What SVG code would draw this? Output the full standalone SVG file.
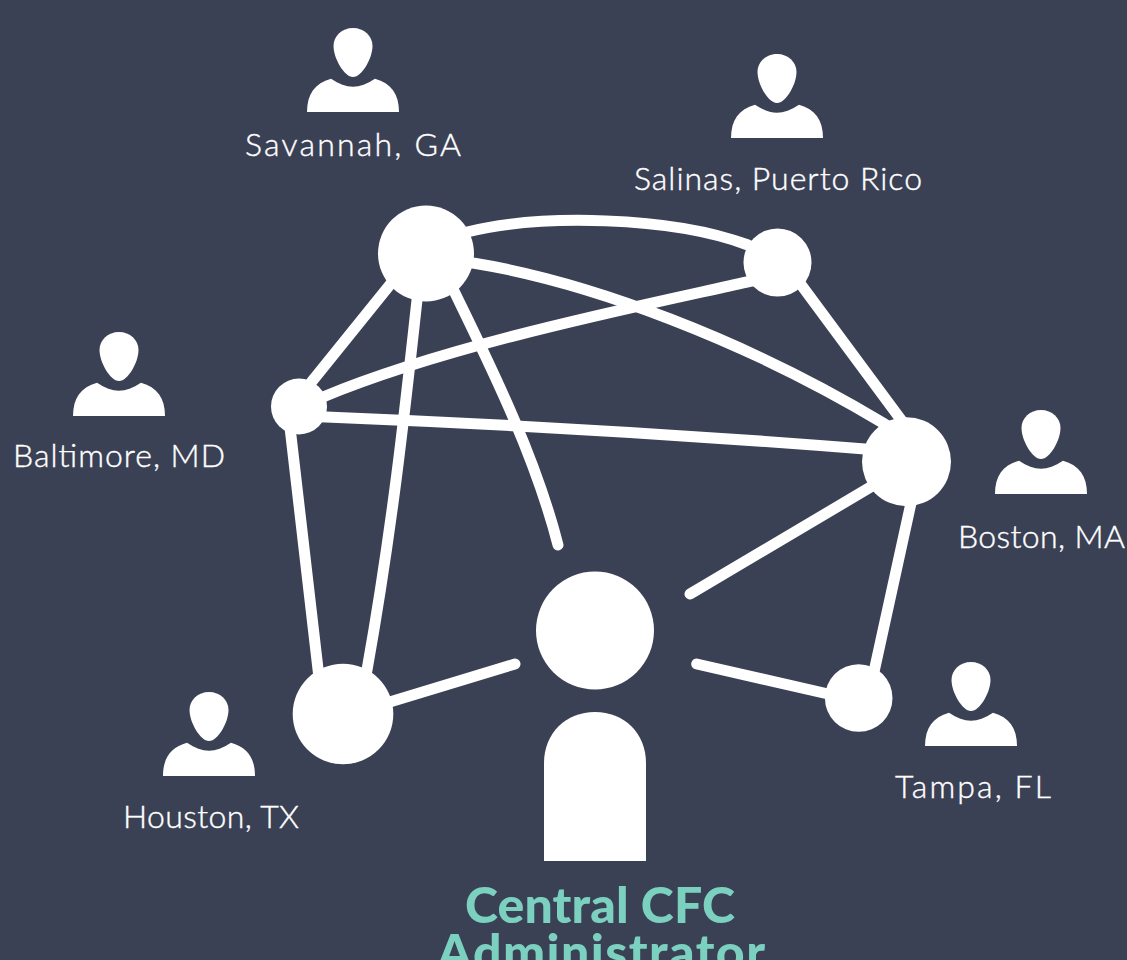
<svg xmlns="http://www.w3.org/2000/svg" width="1127" height="960" viewBox="0 0 1127 960">
<style>
.c{fill:none;stroke:#fff;stroke-width:11;stroke-linecap:round}
.n{fill:#fff}
.l{font-family:"Lato","Noto Sans",sans-serif;font-weight:300;font-size:32px;fill:#fff;stroke:#fff;stroke-width:.4;text-anchor:middle}
.t{font-family:"Lato","Noto Sans",sans-serif;font-weight:900;font-size:50px;fill:#7bd0c0;text-anchor:middle}
</style>
<defs>
<g id="person">
<path class="n" d="M0 0C-11 0 -19.500 8 -19.500 18C-19.500 30 -9 49 0 49C9 49 19.500 30 19.500 18C19.500 8 11 0 0 0Z"/>
<path class="n" d="M-46 84C-46 66 -38 55 -22 50.700C-14 56 -7 58.700 0 58.700C7 58.700 14 56 22 50.700C38 55 46 66 46 84Z"/>
</g>
</defs>
<rect width="1127" height="960" fill="#3b4155"/>
<g id="connectors">
<path class="c" d="M440 240L467 232C540 214 670 216 748 245L770 255"/>
<path class="c" d="M440 256L473 263C590 282 745 340 883 423L906 438"/>
<path class="c" d="M418 250L311.700 381.700L300 397"/>
<path class="c" d="M421 265L417 300C405 410 392 530 367 670L361 700"/>
<path class="c" d="M445 272L455 293C490 365 535 455 558 545"/>
<path class="c" d="M775 276L747 282C640 306 450 344 323 397L300 406"/>
<path class="c" d="M785 263L916 440"/>
<path class="c" d="M300 416L326 417Q600 428 865 449L890 451"/>
<path class="c" d="M288 410L321 695"/>
<path class="c" d="M920 462L870 690"/>
<path class="c" d="M690 594L900 469.600"/>
<path class="c" d="M370 708L515 664"/>
<path class="c" d="M850 699L696.700 664"/>
</g>
<g id="node-savannah"><circle class="n" cx="426" cy="253.500" r="48"/><use href="#person" x="353" y="28"/><text class="l" x="353" y="155.500" textLength="216">Savannah, GA</text></g>
<g id="node-salinas"><circle class="n" cx="777.500" cy="262.500" r="34"/><use href="#person" x="777" y="54"/><text class="l" x="778" y="189.500" textLength="288">Salinas, Puerto Rico</text></g>
<g id="node-baltimore"><circle class="n" cx="299" cy="406.500" r="28"/><use href="#person" x="119" y="332"/><text class="l" x="119" y="467" textLength="212">Baltimore, MD</text></g>
<g id="node-boston"><circle class="n" cx="906.500" cy="461.700" r="44.500"/><use href="#person" x="1041" y="410"/><text class="l" x="1041.500" y="548" textLength="167">Boston, MA</text></g>
<g id="node-tampa"><circle class="n" cx="858.700" cy="698" r="33.800"/><use href="#person" x="971" y="662"/><text class="l" x="973" y="798" textLength="156">Tampa, FL</text></g>
<g id="node-houston"><circle class="n" cx="343" cy="714" r="50.300"/><use href="#person" x="209" y="692"/><text class="l" x="211" y="828" textLength="176">Houston, TX</text></g>
<g id="node-central">
<circle class="n" cx="595" cy="630.500" r="59"/>
<path class="n" d="M544 861V763C544 733 566 712 595 712C624 712 646 733 646 763V861Z"/>
<text class="t" x="600" y="922.500" textLength="270">Central CFC</text>
<text class="t" x="601" y="970" textLength="328">Administrator</text>
</g>
</svg>
